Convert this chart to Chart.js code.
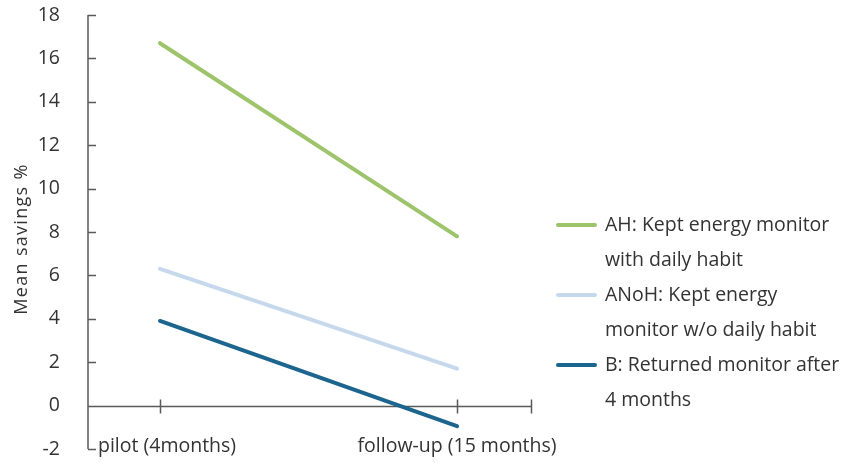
<!DOCTYPE html>
<html>
<head>
<meta charset="utf-8">
<title>Mean savings %</title>
<script src="https://cdn.jsdelivr.net/npm/chart.js@4.4.1/dist/chart.umd.min.js"></script>
<style>
  html, body { margin: 0; padding: 0; background: #ffffff; }
  #wrap { width: 843px; height: 463px; }
</style>
</head>
<body>
<div id="wrap"><canvas id="chart" width="843" height="463"></canvas></div>
<script>
// Periods measured
const periods = ['pilot (4months)', 'follow-up (15 months)'];

// Mean savings (%) per group
const keptWithHabit = [16.7, 7.8];
const keptNoHabit = [6.3, 1.7];
const returnedMonitor = [3.9, -0.95];

// Legend wording, one entry per line of text
const legendLines = [
  ['AH: Kept energy monitor', 'with daily habit'],
  ['ANoH: Kept energy', 'monitor w/o daily habit'],
  ['B: Returned monitor after', '4 months']
];

const axisTitle = 'Mean savings %';

// Value axis range
const yMin = -2, yMax = 18, yStep = 2;

const FONT = '"Open Sans"';
const FSIZE = 19.5;
const TEXT = '#333333';
const AXIS = '#5a5a5a';
const colors = ['#9dc46b', '#c6d9ec', '#1c658e'];

const toPoints = arr => arr.map((v, i) => ({ x: i, y: v }));

const axesPlugin = {
  id: 'excelAxes',
  beforeDatasetsDraw(chart) {
    const { ctx, chartArea: a, scales: { x, y } } = chart;
    ctx.save();
    ctx.strokeStyle = AXIS;
    ctx.lineWidth = 1.5;
    ctx.beginPath();
    // vertical axis
    ctx.moveTo(a.left, a.top);
    ctx.lineTo(a.left, a.bottom);
    // inward tick marks
    for (let v = yMin; v <= yMax; v += yStep) {
      const py = Math.round(y.getPixelForValue(v)) + 0.5;
      ctx.moveTo(a.left, py);
      ctx.lineTo(a.left + 8, py);
    }
    // horizontal axis at zero
    const y0 = Math.round(y.getPixelForValue(0)) + 0.5;
    ctx.moveTo(a.left, y0);
    ctx.lineTo(a.right, y0);
    const xt = periods.map((_, i) => i).concat([x.max]);
    xt.forEach(v => {
      const px = Math.round(x.getPixelForValue(v)) + 0.5;
      ctx.moveTo(px, y0 - 7);
      ctx.lineTo(px, y0 + 7);
    });
    ctx.stroke();
    ctx.restore();
  },
  afterDraw(chart) {
    const { ctx, chartArea: a, scales: { x, y } } = chart;
    ctx.save();
    ctx.font = FSIZE + 'px ' + FONT;
    ctx.fillStyle = TEXT;
    ctx.textBaseline = 'middle';
    ctx.textAlign = 'left';
    // category labels along the bottom
    const ly = y.getPixelForValue(yMin) - 3;
    periods.forEach((lab, i) => {
      const w = ctx.measureText(lab).width;
      const cx = x.getPixelForValue(i);
      const lx = Math.max(cx - w / 2, a.left + 10);
      ctx.fillText(lab, lx, ly);
    });
    // legend
    const lineX0 = a.right + 27, lineX1 = a.right + 64, textX = a.right + 74;
    let ty = 225;
    const gap = 35;
    chart.data.datasets.forEach((ds, i) => {
      ctx.strokeStyle = ds.borderColor;
      ctx.lineWidth = 4;
      ctx.lineCap = 'round';
      ctx.beginPath();
      ctx.moveTo(lineX0, ty);
      ctx.lineTo(lineX1, ty);
      ctx.stroke();
      legendLines[i].forEach(t => {
        ctx.fillText(t, textX, ty);
        ty += gap;
      });
    });
    // rotated value-axis title
    ctx.translate(22, (a.top + a.bottom) / 2 + 7);
    ctx.rotate(-Math.PI / 2);
    ctx.font = '18px ' + FONT;
    ctx.letterSpacing = '1.3px';
    ctx.textAlign = 'center';
    ctx.fillText(axisTitle, 0, 0);
    ctx.restore();
  }
};

const mkSet = (label, data, color) => ({
  label,
  data: toPoints(data),
  borderColor: color,
  backgroundColor: color,
  borderWidth: 4,
  borderCapStyle: 'round',
  pointRadius: 0,
  pointHoverRadius: 0,
  tension: 0,
  clip: false
});

new Chart(document.getElementById('chart'), {
  type: 'line',
  data: {
    datasets: [
      mkSet(legendLines[0].join(' '), keptWithHabit, colors[0]),
      mkSet(legendLines[1].join(' '), keptNoHabit, colors[1]),
      mkSet(legendLines[2].join(' '), returnedMonitor, colors[2])
    ]
  },
  options: {
    responsive: false,
    animation: false,
    events: [],
    layout: { padding: { top: 15, bottom: 14, left: 0, right: 312 } },
    plugins: { legend: { display: false }, tooltip: { enabled: false } },
    scales: {
      x: {
        type: 'linear',
        min: -0.2424,
        max: 1.249,
        display: false
      },
      y: {
        min: yMin,
        max: yMax,
        afterFit: s => {
          s.width = 88;
          s.paddingTop = 0;
          s.paddingBottom = 0;
        },
        grid: { display: false },
        border: { display: false },
        ticks: {
          stepSize: yStep,
          padding: 20,
          color: TEXT,
          font: { family: FONT, size: FSIZE }
        }
      }
    }
  },
  plugins: [axesPlugin]
});
</script>
</body>
</html>
